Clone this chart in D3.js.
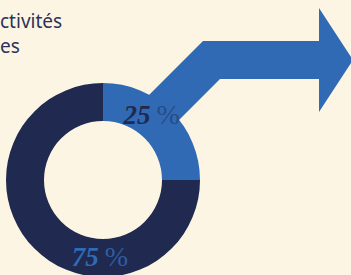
<!DOCTYPE html>
<html>
<head>
<meta charset="utf-8">
<script src="https://cdn.jsdelivr.net/npm/d3@7"></script>
<style>
  html, body { margin: 0; padding: 0; background: #fdf5e3; overflow: hidden; }
  svg { display: block; }
</style>
</head>
<body>
<script>
var Navy = "#20294f";
var Blue = "#306ab4";
var Cream = "#fdf5e3";

// data
var categories = ["Hommes", "Femmes"];
var values = [25, 75];
var labels = ["25", "75"];
var titleLines = ["ctivités", "es"];

var W = 351, H = 275;
var cx = 103, cy = 180;
var outerR = 97, innerR = 59;

var svg = d3.select("body").append("svg")
	.attr("width", W)
	.attr("height", H);

svg.append("rect").attr("width", W).attr("height", H).attr("fill", Cream);

// title text, cut at the left edge
svg.selectAll("#title").data(titleLines).enter()
	.append("text")
	.attr("x", 0)
	.attr("y", (d, i) => 28 + i * 25)
	.attr("font-family", "'Noto Sans', sans-serif")
	.attr("font-size", 19)
	.attr("fill", "#2b3358")
	.text(d => d);

var g = svg.append("g").attr("transform", "translate(" + cx + "," + cy + ")");

// arrow coming out of the blue slice
var a = 41, b = 79; // shaft top / bottom
var arrow = [
	[135 - cx, 109 - cy],
	[203 - cx, a - cy],
	[319 - cx, a - cy],
	[319 - cx, 8 - cy],
	[353 - cx, 60 - cy],
	[319 - cx, 112 - cy],
	[319 - cx, b - cy],
	[220 - cx, b - cy],
	[175 - cx, 124 - cy]
];
g.append("path")
	.attr("d", d3.line()(arrow) + "Z")
	.attr("fill", Blue);

var pie = d3.pie().sort(null).value(d => d)(values);
var arc = d3.arc().innerRadius(innerR).outerRadius(outerR);
var color = d3.scaleOrdinal().domain(categories).range([Blue, Navy]);

g.selectAll("#slice").data(pie).enter()
	.append("path")
	.attr("d", arc)
	.attr("fill", (d, i) => color(categories[i]));

// labels
var labelAngle = [41, 182];
var labelR = [74, 86];
var lab = g.selectAll("#lab").data(pie).enter()
	.append("text")
	.attr("transform", (d, i) => {
		var t = labelAngle[i] * Math.PI / 180;
		return "translate(" + (labelR[i] * Math.sin(t)) + "," + (-labelR[i] * Math.cos(t)) + ")";
	})
	.attr("text-anchor", "middle")
	.attr("font-family", "'Liberation Serif', serif");

lab.append("tspan")
	.attr("font-size", 27)
	.attr("font-weight", "bold")
	.attr("font-style", "italic")
	.attr("fill", (d, i) => i == 0 ? Navy : Blue)
	.text((d, i) => labels[i]);

lab.append("tspan")
	.attr("dx", 6)
	.attr("font-size", 28)
	.attr("fill", (d, i) => i == 0 ? "#2a4a86" : "#2e5da3")
	.text("%");
</script>
</body>
</html>
